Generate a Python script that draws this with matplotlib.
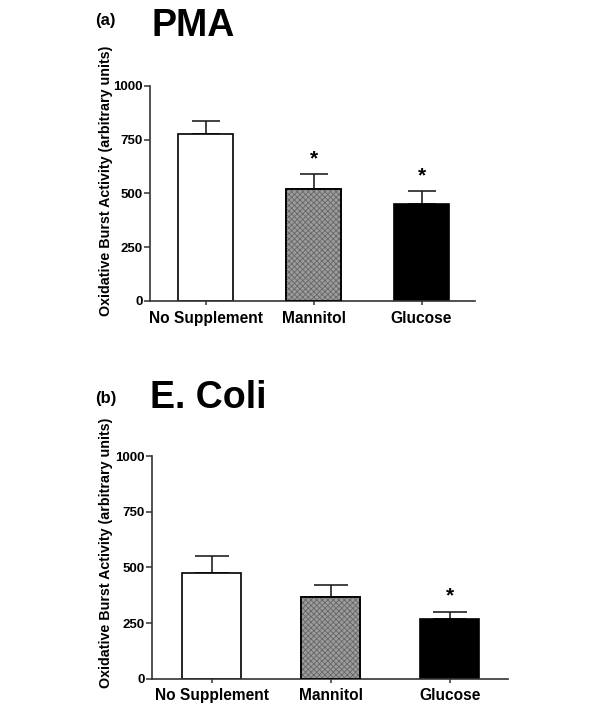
import matplotlib.pyplot as plt

plt.rcParams['font.family'] = ['Liberation Sans', 'DejaVu Sans']
plt.rcParams['hatch.linewidth'] = 0.6

categories = ['No Supplement', 'Mannitol', 'Glucose']
yticks = [0, 250, 500, 750, 1000]

pma_means = [775, 521, 453]
pma_err = [64, 68, 59]
pma_sig = [False, True, True]

ecoli_means = [473, 365, 267]
ecoli_err = [77, 57, 34]
ecoli_sig = [False, False, True]

face = ['white', '#9c9c9c', 'black']
ylab = 'Oxidative Burst Activity (arbitrary units)'


def panel(ax, means, errs, sig, width, cap, xlim):
    x = list(range(len(means)))
    ax.errorbar(x, means, yerr=[[0] * len(errs), errs], fmt='none',
                ecolor='#222222', elinewidth=1.2, capsize=cap, capthick=1.2, zorder=1)
    ax.bar(x, means, width=width, color=face, edgecolor='black', linewidth=1.2, zorder=2)
    # fine texture on the mannitol bar
    ax.bar(x[1], means[1], width=width, color='none', edgecolor='#666666',
           hatch='xxxxxx', linewidth=0, zorder=3)
    ax.bar(x[1], means[1], width=width, fill=False, edgecolor='black', linewidth=1.2, zorder=4)
    for i in x:
        if sig[i]:
            ax.text(i, means[i] + errs[i] + 70, '*', ha='center', va='center',
                    fontsize=15, fontweight='bold')
    ax.set_ylim(0, 1000)
    ax.set_xlim(*xlim)
    ax.set_yticks(yticks)
    ax.set_xticks(x)
    ax.set_xticklabels(categories, fontsize=11.2, fontweight='bold')
    ax.tick_params(axis='y', labelsize=9.5, length=4, width=1.1, color='#333333', pad=1)
    ax.tick_params(axis='x', length=3, width=1.1, color='#333333', pad=4)
    for lab in ax.get_yticklabels():
        lab.set_fontweight('bold')
    for s in ['top', 'right']:
        ax.spines[s].set_visible(False)
    for s in ['left', 'bottom']:
        ax.spines[s].set_linewidth(1.2)
        ax.spines[s].set_color('#333333')


fig = plt.figure(figsize=(6, 7.16), dpi=100)

ax1 = fig.add_axes([150 / 600, 1 - 301 / 716, 325 / 600, 215 / 716])
panel(ax1, pma_means, pma_err, pma_sig, 0.51, 9.9, (-0.514, 2.495))

ax2 = fig.add_axes([151.7 / 600, 1 - 678.7 / 716, 356.3 / 600, 222.7 / 716])
panel(ax2, ecoli_means, ecoli_err, ecoli_sig, 0.5, 12.2, (-0.503, 2.49))

fig.text(106 / 600, 1 - 181 / 716, ylab, rotation=90, ha='center', va='center',
         fontsize=10.3, fontweight='bold')
fig.text(106 / 600, 1 - 553 / 716, ylab, rotation=90, ha='center', va='center',
         fontsize=10.3, fontweight='bold')

fig.text(105 / 600, 1 - 20 / 716, '(a)', ha='center', va='center', fontsize=12, fontweight='bold')
fig.text(152 / 600, 1 - 26 / 716, 'PMA', ha='left', va='center', fontsize=27, fontweight='bold')
fig.text(106 / 600, 1 - 399 / 716, '(b)', ha='center', va='center', fontsize=12, fontweight='bold')
fig.text(150 / 600, 1 - 398 / 716, 'E. Coli', ha='left', va='center', fontsize=27, fontweight='bold')

fig.savefig('out.png', dpi=100)
